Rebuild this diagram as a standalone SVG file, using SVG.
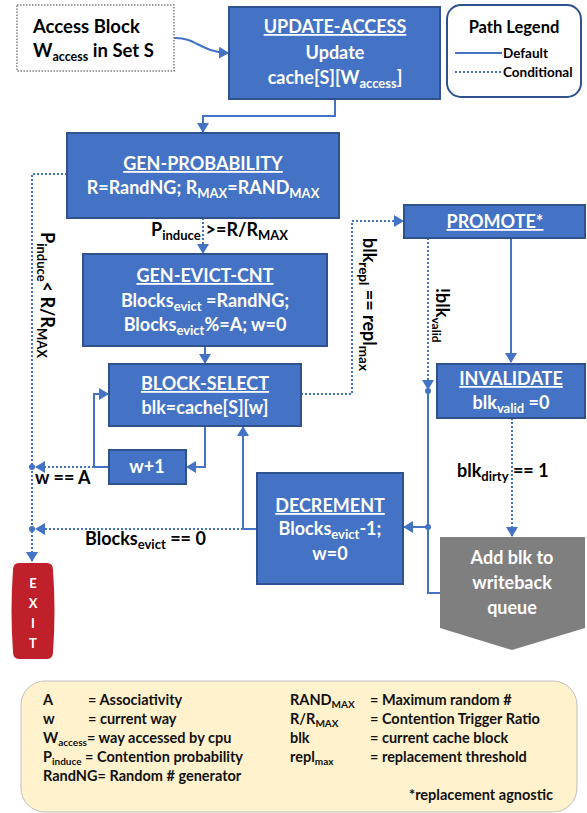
<svg xmlns="http://www.w3.org/2000/svg" width="587" height="813" viewBox="0 0 587 813">
  <defs>
    <marker id="ah" viewBox="0 0 10 12" refX="9" refY="6" markerWidth="10" markerHeight="12" markerUnits="userSpaceOnUse" orient="auto">
      <path d="M0,0 L10,6 L0,12 z" fill="#4472C4"/>
    </marker>
    <style>
      text { font-family: Lato, "Liberation Sans", Arial, sans-serif; font-weight: bold; }
      .box { fill: #4472C4; stroke: #2F528F; stroke-width: 2; }
      .bt { fill: #FFFFFF; font-size: 18px; text-anchor: middle; }
      .ttl { text-decoration: underline; }
      .lbl { fill: #000000; font-size: 18px; }
      .solid { fill: none; stroke: #4472C4; stroke-width: 2; }
      .dot { fill: none; stroke: #4472C4; stroke-width: 2; stroke-dasharray: 2 2; }
      .jn { fill: #4472C4; }
      .leg { fill: #111111; font-size: 14.5px; }
    </style>
  </defs>

  <!-- connectors -->
  <g id="connectors">
    <path class="solid" d="M174,38 C196,37 200,52 228,53" marker-end="url(#ah)"/>
    <path class="solid" d="M335,99 V116 H203 V132" marker-end="url(#ah)"/>
    <path class="dot" d="M203,218 V253" marker-end="url(#ah)"/>
    <path class="solid" d="M205,346 V363" marker-end="url(#ah)"/>
    <path class="solid" d="M205,426 V467 H187" marker-end="url(#ah)"/>
    <path class="solid" d="M109,467 H94 V394 H108" marker-end="url(#ah)"/>
    <path class="dot" d="M94,467 H36" marker-end="url(#ah)"/>
    <path class="dot" d="M67,174 H32 V561" marker-end="url(#ah)"/>
    <path class="solid" d="M257,529 H243 V427" marker-end="url(#ah)"/>
    <path class="dot" d="M243,529 H36" marker-end="url(#ah)"/>
    <path class="dot" d="M301,394 H352 V221 H403" marker-end="url(#ah)"/>
    <path class="solid" d="M511,238 V362" marker-end="url(#ah)"/>
    <path class="dot" d="M428,238 V389" marker-end="url(#ah)"/>
    <path class="solid" d="M440,593 H428 V391"/>
    <path class="solid" d="M428,527 H404" marker-end="url(#ah)"/>
    <path class="dot" d="M512,418 V536" marker-end="url(#ah)"/>
    <circle class="jn" cx="32" cy="467" r="3"/>
    <circle class="jn" cx="32" cy="529" r="3"/>
    <circle class="jn" cx="428" cy="391" r="3"/>
    <circle class="jn" cx="428" cy="527" r="3"/>

    <!-- path labels -->
    <text class="lbl" x="151" y="236">P<tspan dy="4" font-size="13">induce</tspan><tspan dy="-4" dx="5">&gt;=R/R</tspan><tspan dy="4" font-size="13">MAX</tspan></text>
    <text class="lbl" transform="translate(41,232) rotate(90)">P<tspan dy="4" font-size="13">induce</tspan><tspan dy="-4">&lt; R/R</tspan><tspan dy="4" font-size="13">MAX</tspan></text>
    <text class="lbl" transform="translate(363,238) rotate(90)" font-size="19.5">blk<tspan dy="4" font-size="13.5">repl</tspan><tspan dy="-4"> == repl</tspan><tspan dy="4" font-size="13.5">max</tspan></text>
    <text class="lbl" transform="translate(436,288) rotate(90)" font-size="17">!blk<tspan dy="4" font-size="12">valid</tspan></text>
    <text class="lbl" x="35" y="484">w == A</text>
    <text class="lbl" x="85" y="545">Blocks<tspan dy="4" font-size="13">evict</tspan><tspan dy="-4"> == 0</tspan></text>
    <text class="lbl" x="457" y="477">blk<tspan dy="4" font-size="13">dirty</tspan><tspan dy="-4"> == 1</tspan></text>
  </g>

  <g id="access-block">
    <rect x="17" y="5" width="157" height="66" fill="#FFFFFF" stroke="#7F7F7F" stroke-width="1.5" stroke-dasharray="1.5 1.5"/>
    <text x="33" y="33" font-size="18.5">Access Block</text>
    <text x="33" y="57" font-size="18.5">W<tspan dy="4" font-size="12.5">access</tspan><tspan dy="-4"> in Set S</tspan></text>
  </g>

  <g id="update-access">
    <rect class="box" x="229" y="7" width="211" height="92"/>
    <text class="bt ttl" x="335" y="33">UPDATE-ACCESS</text>
    <text class="bt" x="335" y="59">Update</text>
    <text class="bt" x="335" y="84">cache[S][W<tspan dy="4" font-size="13">access</tspan><tspan dy="-4">]</tspan></text>
  </g>

  <g id="path-legend">
    <rect x="447" y="5" width="134" height="92" rx="14" fill="#FFFFFF" stroke="#2F528F" stroke-width="2"/>
    <text x="514" y="33" font-size="16.5" text-anchor="middle">Path Legend</text>
    <line class="solid" x1="455" y1="53" x2="502" y2="53"/>
    <text x="503" y="58" font-size="13.5">Default</text>
    <line class="dot" x1="455" y1="72" x2="502" y2="72" stroke-dasharray="1.5 1.5"/>
    <text x="503" y="77" font-size="13.5">Conditional</text>
  </g>

  <g id="gen-probability">
    <rect class="box" x="67" y="133" width="272" height="85"/>
    <text class="bt ttl" x="203" y="170">GEN-PROBABILITY</text>
    <text class="bt" x="203" y="194">R=RandNG; R<tspan dy="4" font-size="13">MAX</tspan><tspan dy="-4">=RAND</tspan><tspan dy="4" font-size="13">MAX</tspan></text>
  </g>

  <g id="gen-evict-cnt">
    <rect class="box" x="83" y="254" width="244" height="92"/>
    <text class="bt ttl" x="205" y="282">GEN-EVICT-CNT</text>
    <text class="bt" x="205" y="307">Blocks<tspan dy="4" font-size="13">evict</tspan><tspan dy="-4"> =RandNG;</tspan></text>
    <text class="bt" x="205" y="331">Blocks<tspan dy="4" font-size="13">evict</tspan><tspan dy="-4">%=A; w=0</tspan></text>
  </g>

  <g id="block-select">
    <rect class="box" x="109" y="364" width="192" height="62"/>
    <text class="bt ttl" x="205" y="390">BLOCK-SELECT</text>
    <text class="bt" x="205" y="414">blk=cache[S][w]</text>
  </g>

  <g id="w-plus-1">
    <rect class="box" x="109" y="450" width="77" height="34"/>
    <text class="bt" x="147" y="473">w+1</text>
  </g>

  <g id="decrement">
    <rect class="box" x="257" y="473" width="146" height="111"/>
    <text class="bt ttl" x="330" y="512">DECREMENT</text>
    <text class="bt" x="330" y="535">Blocks<tspan dy="4" font-size="13">evict</tspan><tspan dy="-4">-1;</tspan></text>
    <text class="bt" x="330" y="560">w=0</text>
  </g>

  <g id="promote">
    <rect class="box" x="404" y="205" width="181" height="33"/>
    <text class="bt ttl" x="495" y="228">PROMOTE*</text>
  </g>

  <g id="invalidate">
    <rect class="box" x="437" y="364" width="148" height="54"/>
    <text class="bt ttl" x="511" y="385">INVALIDATE</text>
    <text class="bt" x="511" y="409">blk<tspan dy="4" font-size="13">valid</tspan><tspan dy="-4"> =0</tspan></text>
  </g>

  <g id="writeback">
    <polygon points="440,537 585,537 585,628 512,650 440,628" fill="#7F7F7F"/>
    <text class="bt" x="512" y="564" font-size="19.5">Add blk to</text>
    <text class="bt" x="512" y="589" font-size="19.5">writeback</text>
    <text class="bt" x="512" y="614" font-size="19.5">queue</text>
  </g>

  <g id="exit">
    <path d="M19,563 H47 Q53,563 53,570 Q56,611 53,652 Q53,659 47,659 H19 Q13,659 13,652 Q10,611 13,570 Q13,563 19,563 Z" fill="#C0202A"/>
    <text x="33" y="588" font-size="13" fill="#FFFFFF" text-anchor="middle">E</text>
    <text x="33" y="608" font-size="13" fill="#FFFFFF" text-anchor="middle">X</text>
    <text x="33" y="628" font-size="13" fill="#FFFFFF" text-anchor="middle">I</text>
    <text x="33" y="648" font-size="13" fill="#FFFFFF" text-anchor="middle">T</text>
  </g>

  <g id="symbol-key">
    <rect x="21" y="681" width="556" height="131" rx="24" fill="#FFF2CC" stroke="#BFBFBF" stroke-width="1"/>
    <text class="leg" x="43" y="705">A</text>
    <text class="leg" x="88" y="705">= Associativity</text>
    <text class="leg" x="43" y="724">w</text>
    <text class="leg" x="88" y="724">= current way</text>
    <text class="leg" x="43" y="743">W<tspan dy="3" font-size="10">access</tspan><tspan dy="-3">= way accessed by cpu</tspan></text>
    <text class="leg" x="43" y="762">P<tspan dy="3" font-size="10">induce</tspan><tspan dy="-3"> = Contention probability</tspan></text>
    <text class="leg" x="43" y="781">RandNG= Random # generator</text>
    <text class="leg" x="290" y="705">RAND<tspan dy="3" font-size="10">MAX</tspan></text>
    <text class="leg" x="370" y="705">= Maximum random #</text>
    <text class="leg" x="290" y="724">R/R<tspan dy="3" font-size="10">MAX</tspan></text>
    <text class="leg" x="370" y="724">= Contention Trigger Ratio</text>
    <text class="leg" x="290" y="743">blk</text>
    <text class="leg" x="370" y="743">= current cache block</text>
    <text class="leg" x="290" y="762">repl<tspan dy="3" font-size="10">max</tspan></text>
    <text class="leg" x="370" y="762">= replacement threshold</text>
    <text class="leg" x="553" y="800" text-anchor="end">*replacement agnostic</text>
  </g>
</svg>
